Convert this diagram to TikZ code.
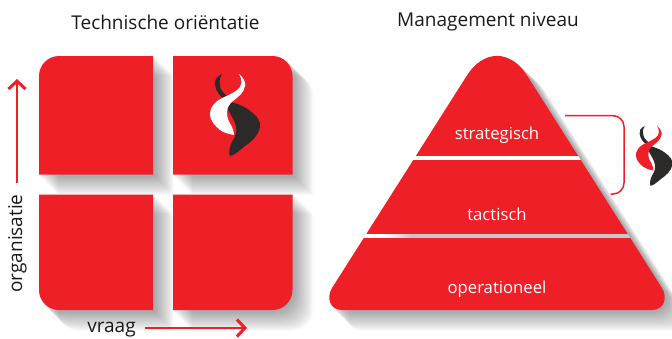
\documentclass[tikz,border=0pt]{standalone}
\usepackage{fontspec}
\usepackage{xcolor}
\usetikzlibrary{arrows.meta}
\setmainfont{Open Sans}
\definecolor{rood}{HTML}{EE1F26}
\definecolor{donker}{HTML}{2B2A29}
\newcommand{\tegelA}{(39,174.6) [rounded corners=20] -- (39,56) [sharp corners] -- (153,56) -- (153,174.6) -- cycle}
\newcommand{\tegelB}{(173,174.6) -- (173,56) [rounded corners=20] -- (292.5,56) [sharp corners] -- (292.5,174.6) -- cycle}
\newcommand{\tegelC}{(153,194.6) -- (39,194.6) [rounded corners=20] -- (39,310) [sharp corners] -- (153,310) -- cycle}
\newcommand{\tegelD}{(173,310) -- (173,194.6) -- (292.5,194.6) [rounded corners=20] -- (292.5,310) [sharp corners] -- (173,310) -- cycle}
\newcommand{\piramide}{(342,310) .. controls (330,310) and (326,298) .. (332,288) -- (467,75.4) .. controls (483.6,49.4) and (510.4,49.4) .. (527,75.4) -- (662,288) .. controls (668,298) and (664,310) .. (652,310) -- cycle}
\newcommand{\schaduw}[1]{
\foreach \s in {1,2,...,20} {
\begin{scope}[transparency group, opacity=.02, xshift=\s pt, yshift=-\s pt]
\filldraw[black, line width=1.5pt, line join=round] #1;
\end{scope}
}
}
\tikzset{
  x=1pt, y=-1pt,
  titel/.style={text=black!90, font=\fontsize{19}{22}\selectfont},
  as/.style={text=black!90, font=\fontsize{19}{22}\selectfont},
  laag/.style={text=white, font=\fontsize{16.7}{19}\selectfont},
  pijl/.style={rood, line width=1.5pt, -{Straight Barb[length=8pt, width=17pt, line width=3pt]}},
  logo/.pic={
    \fill[donker] (27,9) .. controls (21,12) and (19,16) .. (20,20) .. controls (21,27) and (26,32) .. (30,35) .. controls (38,38) and (46,39) .. (54,45) .. controls (62,51) and (66,56) .. (65,62) .. controls (64,70) and (55,78) .. (50,81) .. controls (45,85) and (40,90) .. (35,91) .. controls (33,88) and (35,81) .. (37,77) .. controls (41,71) and (42,66) .. (41,62) .. controls (40,55) and (34,48) .. (31,40) -- (33,32) .. controls (28,28) and (25,24) .. (25,20) .. controls (24,15) and (25,12) .. (27,9) -- cycle;
    \fill[pic actions] (44,9) .. controls (49,13) and (51,18) .. (50,21) .. controls (49,28) and (43,32) .. (38,36) .. controls (34,39) and (32,43) .. (32,48) .. controls (32,53) and (34,57) .. (36,60) .. controls (38,64) and (39,67) .. (39,70) .. controls (34,69) and (29,68) .. (25,65) .. controls (20,61) and (15,55) .. (15,50) .. controls (15,44) and (17,41) .. (21,37) .. controls (27,32) and (36,30) .. (42,25) .. controls (47,22) and (48,15) .. (44,9) -- cycle;
  },
}
\begin{document}
\begin{tikzpicture}
\useasboundingbox (0,0) rectangle (672,338);
\node[titel] (techniek) at (165.5,22) {Technische oriëntatie};
\node[titel] (management) at (488,22) {Management niveau};

\schaduw{\tegelA}
\schaduw{\tegelB}
\schaduw{\tegelC}
\schaduw{\tegelD}
\schaduw{\piramide}
\fill[rood] \tegelA;
\fill[rood] \tegelB;
\fill[rood] \tegelC;
\fill[rood] \tegelD;
\pic[white] at (195,65) {logo};

\begin{scope}
\clip \piramide;
\fill[rood] (300,40) rectangle (690,155.5);
\fill[white] (300,155.5) rectangle (690,160);
\fill[rood] (300,160) rectangle (690,234);
\fill[white] (300,234) rectangle (385,238);
\shade[left color=white, right color=black!22] (385,234) rectangle (410,238);
\fill[black!22] (410,234) rectangle (690,238);
\fill[rood] (300,238) rectangle (690,320);
\end{scope}

\node[laag] (strategisch) at (497,135) {strategisch};
\node[laag] (tactisch) at (497,214) {tactisch};
\node[laag] (operationeel) at (497,289.5) {operationeel};

\coordinate (haakA) at (565,115.7);
\coordinate (haakB) at (624,115.7);
\coordinate (haakC) at (624,194);
\coordinate (haakD) at (610.5,194);
\draw[rood, line width=1.5pt, rounded corners=11] (haakA) -- (haakB) -- (haakC) -- (haakD);
\begin{scope}[xshift=625pt, yshift=-119.4pt, scale=.73]
\pic[rood, transform shape] at (0,0) {logo};
\end{scope}

\node[as, rotate=90] (organisatie) at (17.5,243.5) {organisatie};
\node[as] (vraag) at (111.5,330) {vraag};
\coordinate (organisatieA) at (17,183);
\coordinate (organisatieB) at (17,79);
\coordinate (vraagA) at (145,328);
\coordinate (vraagB) at (247,328);
\draw[pijl] (organisatieA) -- (organisatieB);
\draw[pijl] (vraagA) -- (vraagB);
\end{tikzpicture}
\end{document}
